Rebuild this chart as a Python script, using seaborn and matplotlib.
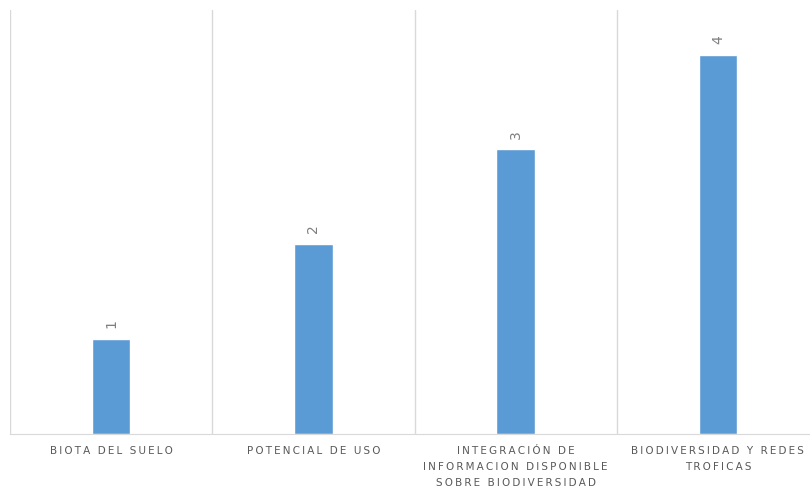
import seaborn as sns
import matplotlib.pyplot as plt
import pandas as pd

categorias = ["BIOTA DEL SUELO", "POTENCIAL DE USO",
              "INTEGRACIÓN DE\nINFORMACION DISPONIBLE\nSOBRE BIODIVERSIDAD",
              "BIODIVERSIDAD Y REDES\nTROFICAS"]
valores = [1, 2, 3, 4]

df = pd.DataFrame({"categoria": categorias, "valor": valores})

sns.set_style("white")
plt.rcParams["font.family"] = ["DejaVu Sans"]

fig = plt.figure(figsize=(8.1, 4.88), dpi=100)
ax = fig.add_axes([10 / 810, 54 / 488, 809 / 810, 424 / 488])

sns.barplot(data=df, x="categoria", y="valor", color="#5B9BD5", width=0.19,
            saturation=1, ax=ax)

ax.set_ylim(0, 4.47)
ax.set_xlim(-0.5, 3.5)

# lineas verticales entre categorias
for x in [-0.5, 0.5, 1.5, 2.5, 3.5]:
    ax.axvline(x, color="#D9D9D9", lw=1, zorder=0)

for i, v in enumerate(valores):
    ax.text(i, v + 0.16, str(v), rotation=90, ha="center", va="center",
            fontsize=10, color="#7F7F7F")

def espaciar(s):
    return "\n".join("\u2009".join(line) for line in s.split("\n"))

ax.set_xticks(range(len(categorias)))
ax.set_xticklabels([espaciar(c) for c in categorias], fontsize=7.5,
                   color="#595959", linespacing=1.75, va="top")
ax.tick_params(axis="x", length=0, pad=9)
ax.set_yticks([])
ax.set_xlabel("")
ax.set_ylabel("")

for s in ["top", "left", "right"]:
    ax.spines[s].set_visible(False)
ax.spines["bottom"].set_color("#D9D9D9")

fig.savefig("out.png", dpi=100)
